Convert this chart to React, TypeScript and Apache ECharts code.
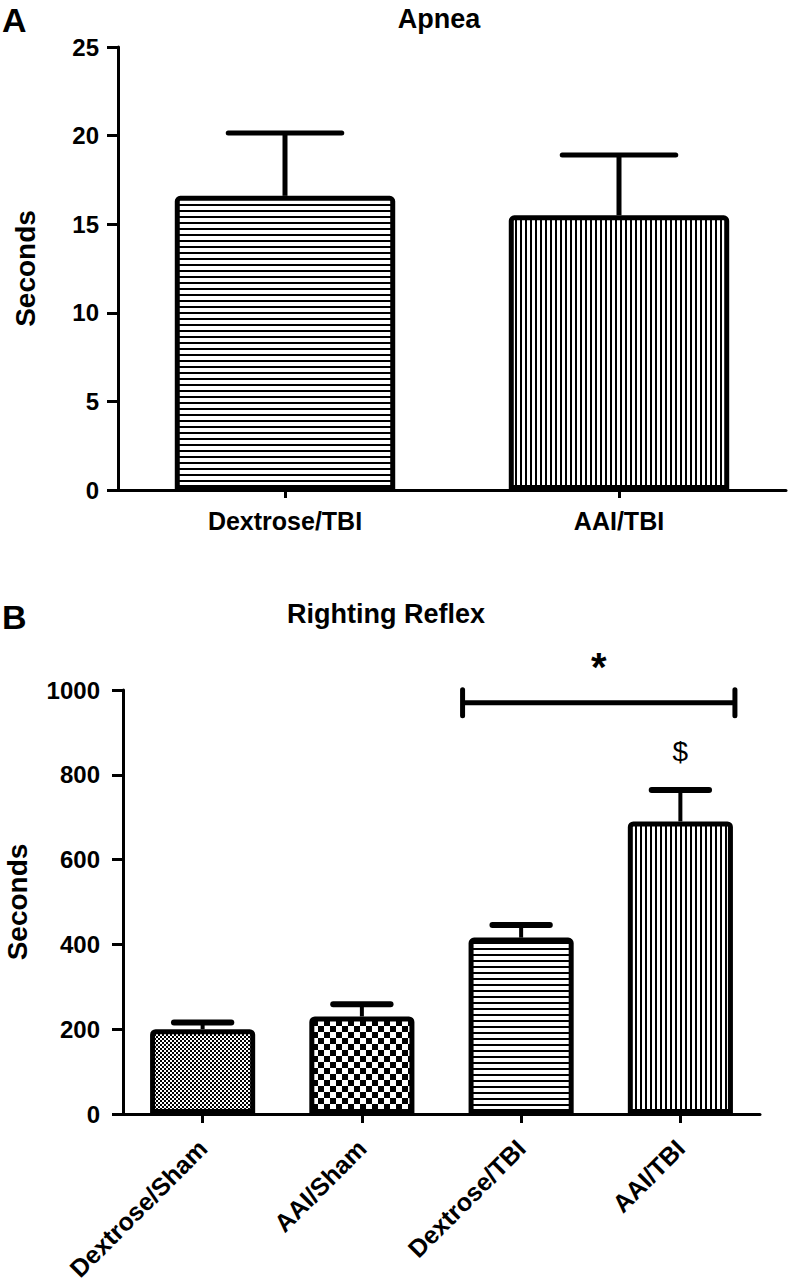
import React, { useEffect, useRef } from 'react';
import * as echarts from 'echarts';

// ---------- data ----------
const apneaCategories = ['Dextrose/TBI', 'AAI/TBI'];
const apneaMeans = [16.6, 15.5];
const apneaUpper = [20.15, 18.9];
const apneaAxis = [0, 25, 5]; // min, max, interval

const rightingCategories = ['Dextrose/Sham', 'AAI/Sham', 'Dextrose/TBI', 'AAI/TBI'];
const rightingMeans = [200, 230, 416, 690];
const rightingUpper = [216, 259, 446, 764];
const rightingAxis = [0, 1000, 200];

const bracketCategories = [2, 3];
const bracketValue = 970;
const starValue = 1055;
const dollarCategory = 3;
const dollarValue = 854;

// ---------- patterns ----------
function tile(w: number, h: number, body: string) {
  const svg = `<svg xmlns="http://www.w3.org/2000/svg" width="${w}" height="${h}" shape-rendering="crispEdges"><rect width="${w}" height="${h}" fill="#ffffff"/>${body}</svg>`;
  return {
    image: 'data:image/svg+xml;charset=utf-8,' + encodeURIComponent(svg),
    repeat: 'repeat',
    imageWidth: w,
    imageHeight: h,
  } as any;
}
const hLines = tile(6, 6, '<rect x="0" y="0" width="6" height="2" fill="#000"/>');
const vLines = tile(5, 5, '<rect x="0" y="0" width="2" height="5" fill="#000"/>');
const fineChecker = tile(4, 4, '<rect x="0" y="0" width="2" height="2" fill="#000"/><rect x="2" y="2" width="2" height="2" fill="#000"/>');
const coarseChecker = tile(12, 12, '<rect x="0" y="0" width="6" height="6" fill="#000"/><rect x="6" y="6" width="6" height="6" fill="#000"/>');

const apneaPatterns = [hLines, vLines];
const rightingPatterns = [fineChecker, coarseChecker, hLines, vLines];

const FONT = '"Liberation Sans", Arial, Helvetica, sans-serif';

function errorRenderer(capFrac: number, stemW: number, capW: number) {
  return (params: any, api: any) => {
    const x = api.value(0);
    const p0 = api.coord([x, api.value(1)]);
    const p1 = api.coord([x, api.value(2)]);
    const half = (api.size([1, 0])[0] * capFrac) / 2;
    return {
      type: 'group',
      children: [
        { type: 'line', shape: { x1: p0[0], y1: p0[1], x2: p1[0], y2: p1[1] }, style: { stroke: '#000', lineWidth: stemW } },
        { type: 'line', shape: { x1: p1[0] - half, y1: p1[1], x2: p1[0] + half, y2: p1[1] }, style: { stroke: '#000', lineWidth: capW, lineCap: 'round' } },
      ],
    };
  };
}

export default function App() {
  const ref = useRef<HTMLDivElement>(null);
  useEffect(() => {
    if (!ref.current) return;
    const chart = echarts.init(ref.current, undefined, { renderer: 'svg' });

    const yAxisCommon = (name: string, nameGap: number, labelMargin: number) => ({
      type: 'value',
      name,
      nameLocation: 'middle',
      nameGap,
      nameTextStyle: { fontFamily: FONT, fontWeight: 'bold', fontSize: 28, color: '#000' },
      axisLine: { show: true, lineStyle: { color: '#000', width: 3 } },
      axisTick: { show: true, length: 11, lineStyle: { color: '#000', width: 3 } },
      axisLabel: { fontFamily: FONT, fontWeight: 'bold', fontSize: 24, color: '#000', margin: labelMargin, formatter: (v: number) => String(v) },
      splitLine: { show: false },
    });

    const option: any = {
      animation: false,
      backgroundColor: '#fff',
      title: [
        { text: 'A', left: 2, top: 3, padding: 0, textStyle: { fontFamily: FONT, fontWeight: 'bold', fontSize: 34, color: '#000' } },
        { text: 'Apnea', left: 439, top: 5, padding: 0, textAlign: 'center', textStyle: { fontFamily: FONT, fontWeight: 'bold', fontSize: 27, color: '#000' } },
        { text: 'B', left: 2, top: 600, padding: 0, textStyle: { fontFamily: FONT, fontWeight: 'bold', fontSize: 34, color: '#000' } },
        { text: 'Righting Reflex', left: 386, top: 600, padding: 0, textAlign: 'center', textStyle: { fontFamily: FONT, fontWeight: 'bold', fontSize: 27, color: '#000' } },
      ],
      grid: [
        { left: 118, top: 47, width: 668, height: 443, outerBoundsMode: 'none', containLabel: false },
        { left: 123, top: 690, width: 637, height: 424, outerBoundsMode: 'none', containLabel: false },
      ],
      xAxis: [
        {
          type: 'category', gridIndex: 0, data: apneaCategories,
          axisLine: { lineStyle: { color: '#000', width: 3 } },
          axisTick: { show: true, alignWithLabel: true, length: 8, lineStyle: { color: '#000', width: 3 } },
          axisLabel: { fontFamily: FONT, fontWeight: 'bold', fontSize: 25, color: '#000', margin: 18 },
        },
        {
          type: 'category', gridIndex: 1, data: rightingCategories,
          axisLine: { lineStyle: { color: '#000', width: 3 } },
          axisTick: { show: true, alignWithLabel: true, length: 9, lineStyle: { color: '#000', width: 3 } },
          axisLabel: { fontFamily: FONT, fontWeight: 'bold', fontSize: 25, color: '#000', margin: 30, rotate: 45, interval: 0 },
        },
      ],
      yAxis: [
        { ...yAxisCommon('Seconds', 79, 19), gridIndex: 0, min: apneaAxis[0], max: apneaAxis[1], interval: apneaAxis[2] },
        { ...yAxisCommon('Seconds', 92, 23), gridIndex: 1, min: rightingAxis[0], max: rightingAxis[1], interval: rightingAxis[2] },
      ],
      series: [
        {
          type: 'custom', xAxisIndex: 0, yAxisIndex: 0, z: 1,
          data: apneaMeans.map((m, i) => [i, m, apneaUpper[i]]),
          encode: { x: 0, y: [1, 2] },
          renderItem: errorRenderer(0.34, 5, 5),
        },
        {
          type: 'bar', xAxisIndex: 0, yAxisIndex: 0, z: 2, barWidth: '66%',
          data: apneaMeans.map((v, i) => ({ value: v, itemStyle: { color: apneaPatterns[i] } })),
          itemStyle: { borderColor: '#000', borderWidth: 5, borderRadius: [3, 3, 0, 0] },
        },
        {
          type: 'custom', xAxisIndex: 1, yAxisIndex: 1, z: 1,
          data: rightingMeans.map((m, i) => [i, m, rightingUpper[i]]),
          encode: { x: 0, y: [1, 2] },
          renderItem: errorRenderer(0.36, 4, 6),
        },
        {
          type: 'bar', xAxisIndex: 1, yAxisIndex: 1, z: 2, barWidth: '66%',
          data: rightingMeans.map((v, i) => ({ value: v, itemStyle: { color: rightingPatterns[i] } })),
          itemStyle: { borderColor: '#000', borderWidth: 5, borderRadius: [3, 3, 0, 0] },
        },
        {
          type: 'custom', xAxisIndex: 1, yAxisIndex: 1, z: 3,
          data: [[bracketCategories[0], bracketCategories[1], bracketValue, starValue]],
          encode: { x: [0, 1], y: [2, 3] },
          renderItem: (params: any, api: any) => {
            const pL = api.coord([api.value(0), api.value(2)]);
            const pR = api.coord([api.value(1), api.value(2)]);
            const pS = api.coord([api.value(0), api.value(3)]);
            const half = (api.size([1, 0])[0] * 0.66) / 2 + 4;
            const xl = pL[0] - half - 2;
            const xr = pR[0] + half - 2;
            const y = pL[1];
            return {
              type: 'group',
              children: [
                { type: 'line', shape: { x1: xl, y1: y, x2: xr, y2: y }, style: { stroke: '#000', lineWidth: 5 } },
                { type: 'line', shape: { x1: xl, y1: y - 13, x2: xl, y2: y + 13 }, style: { stroke: '#000', lineWidth: 5, lineCap: 'round' } },
                { type: 'line', shape: { x1: xr, y1: y - 13, x2: xr, y2: y + 13 }, style: { stroke: '#000', lineWidth: 5, lineCap: 'round' } },
                { type: 'text', x: (xl + xr) / 2, y: pS[1], style: { text: '*', fontFamily: FONT, fontWeight: 'bold', fontSize: 40, fill: '#000', textAlign: 'center', textVerticalAlign: 'middle' } },
              ],
            };
          },
        },
        {
          type: 'custom', xAxisIndex: 1, yAxisIndex: 1, z: 3,
          data: [[dollarCategory, dollarValue]],
          encode: { x: 0, y: 1 },
          renderItem: (params: any, api: any) => {
            const p = api.coord([api.value(0), api.value(1)]);
            return { type: 'text', x: p[0], y: p[1], style: { text: '$', fontFamily: FONT, fontSize: 28, fill: '#000', textAlign: 'center', textVerticalAlign: 'middle' } };
          },
        },
      ],
    };
    chart.setOption(option);
    return () => chart.dispose();
  }, []);
  return <div ref={ref} style={{ position: 'absolute', left: 0, top: 0, width: 788, height: 1286, background: '#fff' }} />;
}
